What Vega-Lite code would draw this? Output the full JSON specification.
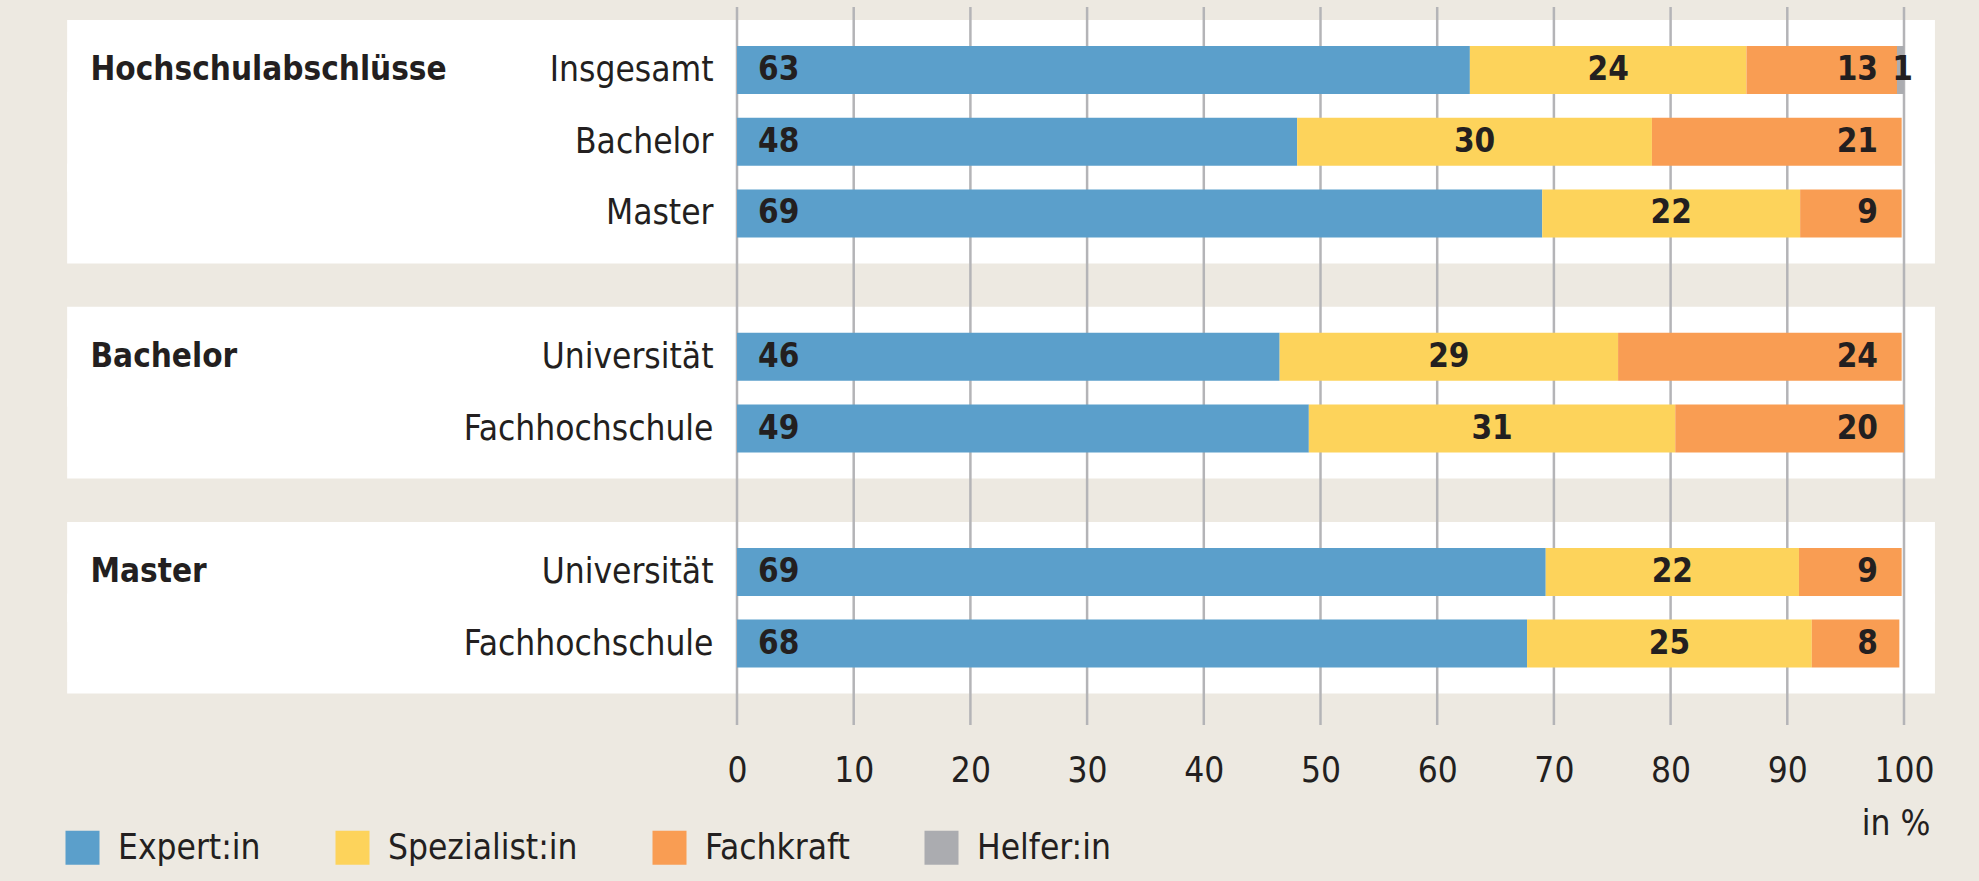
{
  "$schema": "https://vega.github.io/schema/vega-lite/v6.json",
  "width": 1167,
  "height": 718,
  "autosize": {"type": "none"},
  "padding": {"left": 737, "top": 7, "right": 75, "bottom": 156},
  "background": "#EDE9E1",
  "config": {
    "view": {"stroke": null},
    "font": "'DejaVu Sans Condensed', 'DejaVu Sans', sans-serif"
  },
  "datasets": {
    "shares": [
      {"row": "Hochschulabschlüsse|Insgesamt", "cat": "Expert:in", "value": 62.8, "label": "63"},
      {"row": "Hochschulabschlüsse|Insgesamt", "cat": "Spezialist:in", "value": 23.7, "label": "24"},
      {"row": "Hochschulabschlüsse|Insgesamt", "cat": "Fachkraft", "value": 12.9, "label": "13"},
      {"row": "Hochschulabschlüsse|Insgesamt", "cat": "Helfer:in", "value": 0.6, "label": "1"},
      {"row": "Hochschulabschlüsse|Bachelor", "cat": "Expert:in", "value": 48.0, "label": "48"},
      {"row": "Hochschulabschlüsse|Bachelor", "cat": "Spezialist:in", "value": 30.4, "label": "30"},
      {"row": "Hochschulabschlüsse|Bachelor", "cat": "Fachkraft", "value": 21.4, "label": "21"},
      {"row": "Hochschulabschlüsse|Master", "cat": "Expert:in", "value": 69.0, "label": "69"},
      {"row": "Hochschulabschlüsse|Master", "cat": "Spezialist:in", "value": 22.1, "label": "22"},
      {"row": "Hochschulabschlüsse|Master", "cat": "Fachkraft", "value": 8.7, "label": "9"},
      {"row": "Bachelor|Universität", "cat": "Expert:in", "value": 46.5, "label": "46"},
      {"row": "Bachelor|Universität", "cat": "Spezialist:in", "value": 29.0, "label": "29"},
      {"row": "Bachelor|Universität", "cat": "Fachkraft", "value": 24.3, "label": "24"},
      {"row": "Bachelor|Fachhochschule", "cat": "Expert:in", "value": 49.0, "label": "49"},
      {"row": "Bachelor|Fachhochschule", "cat": "Spezialist:in", "value": 31.4, "label": "31"},
      {"row": "Bachelor|Fachhochschule", "cat": "Fachkraft", "value": 19.6, "label": "20"},
      {"row": "Master|Universität", "cat": "Expert:in", "value": 69.3, "label": "69"},
      {"row": "Master|Universität", "cat": "Spezialist:in", "value": 21.7, "label": "22"},
      {"row": "Master|Universität", "cat": "Fachkraft", "value": 8.8, "label": "9"},
      {"row": "Master|Fachhochschule", "cat": "Expert:in", "value": 67.7, "label": "68"},
      {"row": "Master|Fachhochschule", "cat": "Spezialist:in", "value": 24.4, "label": "25"},
      {"row": "Master|Fachhochschule", "cat": "Fachkraft", "value": 7.5, "label": "8"}
    ],
    "groups": [
      {"row": "Hochschulabschlüsse|Insgesamt", "title": "Hochschulabschlüsse"},
      {"row": "Bachelor|Universität", "title": "Bachelor"},
      {"row": "Master|Universität", "title": "Master"}
    ],
    "ticks": [
      {"t": 0}, {"t": 10}, {"t": 20}, {"t": 30}, {"t": 40}, {"t": 50},
      {"t": 60}, {"t": 70}, {"t": 80}, {"t": 90}, {"t": 100}
    ]
  },
  "layer": [
    {
      "data": {"name": "shares"},
      "transform": [{"filter": "datum.cat == 'Expert:in'"}],
      "mark": {"type": "bar", "height": 100, "color": "#FFFFFF"},
      "encoding": {
        "y": {"field": "row", "type": "nominal", "title": null,
              "scale": {"domain": ["Hochschulabschlüsse|Insgesamt", "Hochschulabschlüsse|Bachelor", "Hochschulabschlüsse|Master", "gap1", "Bachelor|Universität", "Bachelor|Fachhochschule", "gap2", "Master|Universität", "Master|Fachhochschule"], "paddingInner": 0.33, "paddingOuter": 0.672, "align": 0.4046, "round": false}},
        "x": {"datum": -57.4, "type": "quantitative", "title": "in %", "scale": {"domain": [0, 100], "nice": false, "zero": false}},
        "x2": {"datum": 102.65}
      }
    },
    {
      "data": {"name": "ticks"},
      "mark": {"type": "rule", "color": "#B4B4B7", "strokeWidth": 2.5},
      "encoding": {
        "x": {"field": "t", "type": "quantitative", "title": "in %", "scale": {"domain": [0, 100], "nice": false, "zero": false}}
      }
    },
    {
      "data": {"name": "shares"},
      "transform": [
        {"calculate": "indexof(['Expert:in','Spezialist:in','Fachkraft','Helfer:in'], datum.cat)", "as": "ord"},
        {"stack": "value", "groupby": ["row"], "sort": [{"field": "ord"}], "as": ["x0", "x1"]}
      ],
      "mark": {"type": "bar"},
      "encoding": {
        "y": {"field": "row", "type": "nominal", "title": null,
              "scale": {"domain": ["Hochschulabschlüsse|Insgesamt", "Hochschulabschlüsse|Bachelor", "Hochschulabschlüsse|Master", "gap1", "Bachelor|Universität", "Bachelor|Fachhochschule", "gap2", "Master|Universität", "Master|Fachhochschule"], "paddingInner": 0.33, "paddingOuter": 0.672, "align": 0.4046, "round": false},
              "axis": {"zindex": 2, "ticks": false, "domain": false, "labelPadding": 24, "labelFontSize": 35, "labelColor": "#231F20", "labelLimit": 500,
                       "labelExpr": "indexof(datum.value, '|') > 0 ? split(datum.value, '|')[1] : ''"}},
        "x": {"field": "x0", "type": "quantitative", "title": "in %",
              "scale": {"domain": [0, 100], "nice": false, "zero": false},
              "axis": {"values": [0, 10, 20, 30, 40, 50, 60, 70, 80, 90, 100], "grid": false, "ticks": false, "tickSize": 0, "domain": false,
                       "labelPadding": 28, "labelFontSize": 35, "labelColor": "#231F20", "labelFlush": false,
                       "titleFontSize": 35, "titleFontWeight": "normal", "titleColor": "#231F20", "titleAnchor": "end", "titleAlign": "right",
                       "titleX": 1193, "titleY": 109, "titleBaseline": "alphabetic"}},
        "x2": {"field": "x1"},
        "color": {"field": "cat", "type": "nominal",
                  "sort": ["Expert:in", "Spezialist:in", "Fachkraft", "Helfer:in"],
                  "scale": {"domain": ["Expert:in", "Spezialist:in", "Fachkraft", "Helfer:in"], "range": ["#5B9FCB", "#FDD35B", "#F99D53", "#ABACB0"]},
                  "legend": {"orient": "none", "legendX": -672, "legendY": 823, "direction": "horizontal", "title": null,
                             "symbolType": "square", "symbolSize": 1156, "symbolStrokeWidth": 0, "symbolOpacity": 1,
                             "labelFontSize": 35, "labelOffset": 18, "columnPadding": 74, "labelColor": "#231F20", "labelLimit": 500}}
      }
    },
    {
      "data": {"name": "shares"},
      "transform": [
        {"calculate": "indexof(['Expert:in','Spezialist:in','Fachkraft','Helfer:in'], datum.cat)", "as": "ord"},
        {"stack": "value", "groupby": ["row"], "sort": [{"field": "ord"}], "as": ["x0", "x1"]},
        {"filter": "datum.cat == 'Expert:in'"}
      ],
      "mark": {"type": "text", "align": "left", "dx": 21, "baseline": "middle", "fontSize": 33, "fontWeight": "bold", "color": "#231F20"},
      "encoding": {
        "y": {"field": "row", "type": "nominal", "title": null,
              "scale": {"domain": ["Hochschulabschlüsse|Insgesamt", "Hochschulabschlüsse|Bachelor", "Hochschulabschlüsse|Master", "gap1", "Bachelor|Universität", "Bachelor|Fachhochschule", "gap2", "Master|Universität", "Master|Fachhochschule"], "paddingInner": 0.33, "paddingOuter": 0.672, "align": 0.4046, "round": false}},
        "x": {"field": "x0", "type": "quantitative", "title": "in %", "scale": {"domain": [0, 100], "nice": false, "zero": false}},
        "text": {"field": "label"}
      }
    },
    {
      "data": {"name": "shares"},
      "transform": [
        {"calculate": "indexof(['Expert:in','Spezialist:in','Fachkraft','Helfer:in'], datum.cat)", "as": "ord"},
        {"stack": "value", "groupby": ["row"], "sort": [{"field": "ord"}], "as": ["x0", "x1"]},
        {"filter": "datum.cat == 'Spezialist:in'"},
        {"calculate": "(datum.x0 + datum.x1) / 2", "as": "mid"}
      ],
      "mark": {"type": "text", "align": "center", "baseline": "middle", "fontSize": 33, "fontWeight": "bold", "color": "#231F20"},
      "encoding": {
        "y": {"field": "row", "type": "nominal", "title": null,
              "scale": {"domain": ["Hochschulabschlüsse|Insgesamt", "Hochschulabschlüsse|Bachelor", "Hochschulabschlüsse|Master", "gap1", "Bachelor|Universität", "Bachelor|Fachhochschule", "gap2", "Master|Universität", "Master|Fachhochschule"], "paddingInner": 0.33, "paddingOuter": 0.672, "align": 0.4046, "round": false}},
        "x": {"field": "mid", "type": "quantitative", "title": "in %", "scale": {"domain": [0, 100], "nice": false, "zero": false}},
        "text": {"field": "label"}
      }
    },
    {
      "data": {"name": "shares"},
      "transform": [{"filter": "datum.cat == 'Fachkraft'"}],
      "mark": {"type": "text", "align": "right", "dx": -26, "baseline": "middle", "fontSize": 33, "fontWeight": "bold", "color": "#231F20"},
      "encoding": {
        "y": {"field": "row", "type": "nominal", "title": null,
              "scale": {"domain": ["Hochschulabschlüsse|Insgesamt", "Hochschulabschlüsse|Bachelor", "Hochschulabschlüsse|Master", "gap1", "Bachelor|Universität", "Bachelor|Fachhochschule", "gap2", "Master|Universität", "Master|Fachhochschule"], "paddingInner": 0.33, "paddingOuter": 0.672, "align": 0.4046, "round": false}},
        "x": {"datum": 100, "type": "quantitative", "title": "in %", "scale": {"domain": [0, 100], "nice": false, "zero": false}},
        "text": {"field": "label"}
      }
    },
    {
      "data": {"name": "shares"},
      "transform": [
        {"calculate": "indexof(['Expert:in','Spezialist:in','Fachkraft','Helfer:in'], datum.cat)", "as": "ord"},
        {"stack": "value", "groupby": ["row"], "sort": [{"field": "ord"}], "as": ["x0", "x1"]},
        {"filter": "datum.cat == 'Helfer:in'"},
        {"calculate": "(datum.x0 + datum.x1) / 2", "as": "mid"}
      ],
      "mark": {"type": "text", "align": "center", "dx": 2, "baseline": "middle", "fontSize": 33, "fontWeight": "bold", "color": "#231F20"},
      "encoding": {
        "y": {"field": "row", "type": "nominal", "title": null,
              "scale": {"domain": ["Hochschulabschlüsse|Insgesamt", "Hochschulabschlüsse|Bachelor", "Hochschulabschlüsse|Master", "gap1", "Bachelor|Universität", "Bachelor|Fachhochschule", "gap2", "Master|Universität", "Master|Fachhochschule"], "paddingInner": 0.33, "paddingOuter": 0.672, "align": 0.4046, "round": false}},
        "x": {"field": "mid", "type": "quantitative", "title": "in %", "scale": {"domain": [0, 100], "nice": false, "zero": false}},
        "text": {"field": "label"}
      }
    },
    {
      "data": {"name": "groups"},
      "mark": {"type": "text", "align": "left", "baseline": "middle", "fontSize": 33, "fontWeight": "bold", "color": "#231F20"},
      "encoding": {
        "y": {"field": "row", "type": "nominal", "title": null,
              "scale": {"domain": ["Hochschulabschlüsse|Insgesamt", "Hochschulabschlüsse|Bachelor", "Hochschulabschlüsse|Master", "gap1", "Bachelor|Universität", "Bachelor|Fachhochschule", "gap2", "Master|Universität", "Master|Fachhochschule"], "paddingInner": 0.33, "paddingOuter": 0.672, "align": 0.4046, "round": false}},
        "x": {"datum": -55.4, "type": "quantitative", "title": "in %", "scale": {"domain": [0, 100], "nice": false, "zero": false}},
        "text": {"field": "title"}
      }
    }
  ]
}
